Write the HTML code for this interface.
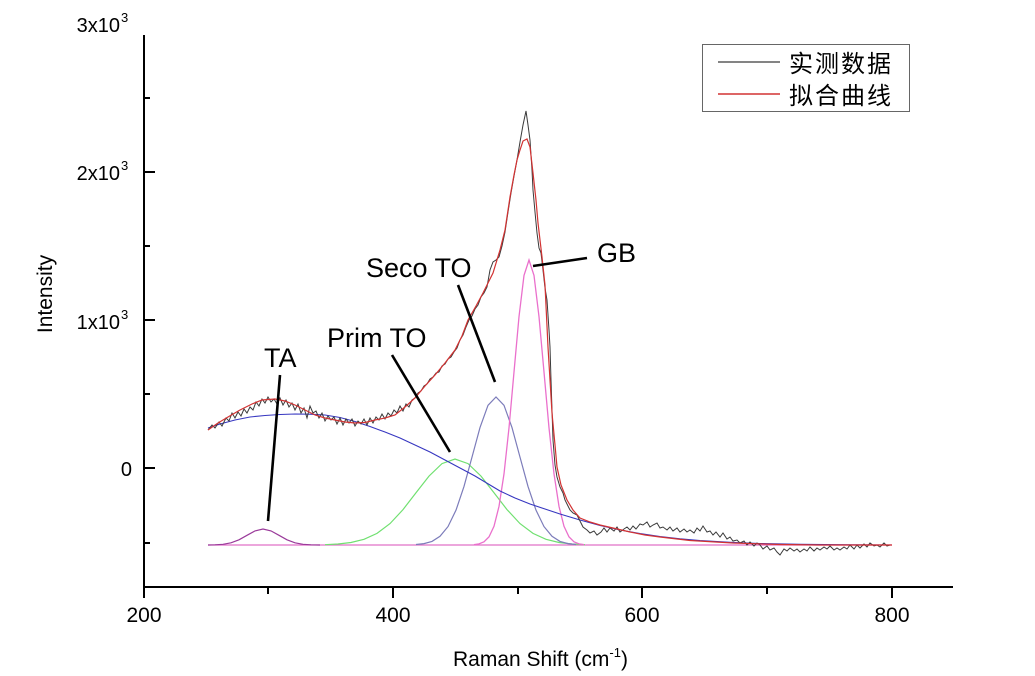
<!DOCTYPE html>
<html>
<head>
<meta charset="utf-8">
<style>
html,body{margin:0;padding:0;background:#fff;}
svg{display:block;}
text{font-family:"Liberation Sans","Noto Sans CJK SC",sans-serif;fill:#000;}
.cjk{font-family:"Liberation Sans","Noto Sans CJK SC",sans-serif;}
</style>
</head>
<body>
<svg width="1035" height="676" viewBox="0 0 1035 676" xmlns="http://www.w3.org/2000/svg">
<rect x="0" y="0" width="1035" height="676" fill="#fff"/>

<!-- baseline of components -->
<line x1="208" y1="545" x2="892" y2="545" stroke="#e070c8" stroke-width="1.3"/>

<!-- TA component -->
<polyline fill="none" stroke="#9a3a9a" stroke-width="1.2" points="208,545 215,544.8 223,544.3 231,542.8 239,539.8 247,535.3 255,530.9 263,529 271,530.9 279,535.3 287,539.8 295,542.8 303,544.3 311,544.8 320,545"/>

<!-- Prim TO (green) -->
<polyline fill="none" stroke="#70e070" stroke-width="1.2" points="325,544.7 338,544 351,542.5 364,539.3 377,533.4 390,523.6 403,509.6 416,492.8 429,476.1 442,463.6 455,459 468,463.6 481,476.1 494,492.8 507,509.6 520,523.6 533,533.4 546,539.3 559,542.5 572,544 585,544.7"/>

<!-- Seco TO -->
<polyline fill="none" stroke="#7c7cba" stroke-width="1.2" points="416,544.5 424,543.6 432,541.4 440,536.3 448,526.6 456,510.2 464,486.4 472,457.1 480,427.6 488,405.3 496,397 504,405.3 512,427.6 520,457.1 528,486.4 536,510.2 544,526.6 552,536.3 560,541.4 568,543.6 576,544.5"/>

<!-- GB (pink) -->
<polyline fill="none" stroke="#ea70cc" stroke-width="1.3" points="474,544.7 479,543.9 484,541.8 489,536.9 494,526.3 499,506.4 504,473.9 509,427.8 514,372.1 519,316.7 524,275.4 529,260 534,275.4 539,316.7 544,372.1 549,427.8 554,473.9 559,506.4 564,526.3 569,536.9 574,541.8 579,543.9 584,544.7"/>

<!-- Broad blue component -->
<polyline fill="none" stroke="#3636c0" stroke-width="1.1" points="208,428 220,424 235,420 250,417 265,415.5 280,414.5 295,414 310,414.2 325,415 340,417.5 355,421.5 370,426.5 385,432 400,438 415,445 430,452 445,460 460,468 475,476 490,485 500,491 515,498 530,504 545,509 560,514 580,520 600,525.5 620,530 640,533.5 660,536.5 680,538.8 700,540.5 730,542.3 760,543.5 800,544.3 850,544.8 892,545"/>

<!-- measured data (black) -->
<polyline fill="none" stroke="#3a3a3a" stroke-width="1" points="208,430 212,425 215,428 219,422 222,426 226,418 229,421 232,413 235,418 238,412 241,416 244,409 247,413 250,407 253,410 256,402 259,406 262,399 265,403 268,397 271,402 274,399 277,404 280,398 283,405 286,400 289,407 292,403 295,410 298,404 301,413 304,408 307,418 310,406 313,413 316,411 319,418 322,413 325,421 328,416 331,420 334,417 337,424 340,418 343,425 346,419 349,423 352,419 355,426 358,421 361,424 364,419 367,425 370,418 373,423 376,417 379,420 382,414 385,419 388,413 391,416 394,410 397,413 400,406 403,411 406,404 409,407 412,400 415,398 418,393 421,391 424,386 427,384 430,379 433,377 436,373 439,372 442,366 445,364 448,359 451,357 454,352 457,348 460,340 463,335 466,327 469,320 472,316 475,309 478,305 481,297 484,293 487,287 490,270 493,262 496,260 499,257 502,246 505,232 508,212 511,193 514,176 517,160 520,142 523,125 526,111 528,125 530,140 532,170 533,190 535,212 537,233 539,248 541,253 543,270 545,288 547,300 549,330 550,347 551,380 552,410 553,440 555,465 557,477 560,487 562,491 563,493 565,500 568,506 570,510 573,513 577,515 580,521 583,527 587,530 590,533 594,531 597,535 601,532 604,528 607,532 610,528 614,531 617,527 620,532 624,529 627,527 630,530 633,526 636,529 640,524 643,525 647,522 650,527 653,525 657,523 660,528 663,527 667,530 670,527 673,531 677,528 680,532 684,529 687,532 690,530 694,533 697,528 700,531 703,526 707,532 710,531 713,535 716,532 720,537 723,533 727,539 730,537 733,541 737,540 740,543 744,541 747,545 750,542 754,546 757,543 760,545 763,549 767,546 770,550 774,548 777,552 780,555 784,549 787,551 790,548 794,551 797,549 800,552 804,549 807,551 810,547 814,551 817,548 820,550 824,547 827,549 830,546 834,550 837,548 840,550 844,547 847,549 850,545 854,549 857,545 860,548 864,544 867,547 870,543 874,546 877,545 880,547 884,543 887,546 890,545"/>

<!-- fit curve (red) -->
<polyline fill="none" stroke="#d23232" stroke-width="1.2" points="208,430 218,423 228,417 240,410 252,404 262,400 275,399 285,401 295,405 305,410 315,415 325,418 335,420 345,422 355,423 365,422.5 375,420 385,418 395,415 405,407 415,398 425,386 435,375 445,363 455,350 462,336 468,320 476,306 483,293 493,273 500,250 505,230 510,197 514,175 517,160 520,150 523,141 527,139 530,147 533,173 536,200 538,223 542,257 545,285 548,347 550,380 552,413 555,445 557,467 561,485 567,500 573,510 580,518 590,522 600,525 613,528 630,532 645,535 660,537 690,540.5 733,543 780,544.5 820,545 892,545"/>

<!-- annotation lines -->
<g stroke="#000" stroke-width="2.6" stroke-linecap="butt">
<line x1="280" y1="375" x2="268" y2="521"/>
<line x1="392" y1="355" x2="450" y2="452"/>
<line x1="458" y1="285" x2="495" y2="382"/>
<line x1="587" y1="258" x2="533" y2="266"/>
</g>

<!-- annotation text -->
<g font-size="27">
<text x="264" y="367">TA</text>
<text x="327" y="347">Prim TO</text>
<text x="366" y="277">Seco TO</text>
<text x="597" y="262">GB</text>
</g>

<!-- axes -->
<g stroke="#000" stroke-width="2">
<line x1="144" y1="35" x2="144" y2="588"/>
<line x1="143" y1="587" x2="953" y2="587"/>
<!-- y ticks -->
<line x1="144" y1="172" x2="155" y2="172"/>
<line x1="144" y1="320" x2="155" y2="320"/>
<line x1="144" y1="468" x2="155" y2="468"/>
<line x1="144" y1="98" x2="150" y2="98"/>
<line x1="144" y1="246" x2="150" y2="246"/>
<line x1="144" y1="394" x2="150" y2="394"/>
<line x1="144" y1="543" x2="150" y2="543"/>
<!-- x ticks -->
<line x1="144" y1="587" x2="144" y2="598"/>
<line x1="393" y1="587" x2="393" y2="598"/>
<line x1="642" y1="587" x2="642" y2="598"/>
<line x1="892" y1="587" x2="892" y2="598"/>
<line x1="268" y1="587" x2="268" y2="594"/>
<line x1="518" y1="587" x2="518" y2="594"/>
<line x1="767" y1="587" x2="767" y2="594"/>
</g>

<!-- x tick labels -->
<g font-size="21" text-anchor="middle">
<text x="144" y="622">200</text>
<text x="393" y="622">400</text>
<text x="642" y="622">600</text>
<text x="892" y="622">800</text>
</g>

<!-- y tick labels -->
<g font-size="20">
<text x="120" y="32" text-anchor="end">3x10</text><text x="121" y="22" font-size="13">3</text>
<text x="120" y="180" text-anchor="end">2x10</text><text x="121" y="170" font-size="13">3</text>
<text x="120" y="329" text-anchor="end">1x10</text><text x="121" y="319" font-size="13">3</text>
<text x="132" y="476" text-anchor="end">0</text>
</g>

<!-- axis titles -->
<text x="0" y="0" font-size="21" text-anchor="middle" transform="translate(52,294) rotate(-90)">Intensity</text>
<text x="453" y="666" font-size="21">Raman Shift (cm<tspan font-size="13" dy="-9">-1</tspan><tspan dy="9">)</tspan></text>

<!-- legend -->
<rect x="702.5" y="44.5" width="207" height="67" fill="#fff" stroke="#666" stroke-width="1"/>
<line x1="718" y1="62" x2="780" y2="62" stroke="#3a3a3a" stroke-width="1.2"/>
<line x1="718" y1="94" x2="780" y2="94" stroke="#d23232" stroke-width="1.4"/>
<g font-size="24" class="cjk">
<text x="789" y="72" letter-spacing="2">实测数据</text>
<text x="789" y="104" letter-spacing="2">拟合曲线</text>
</g>
</svg>
</body>
</html>
